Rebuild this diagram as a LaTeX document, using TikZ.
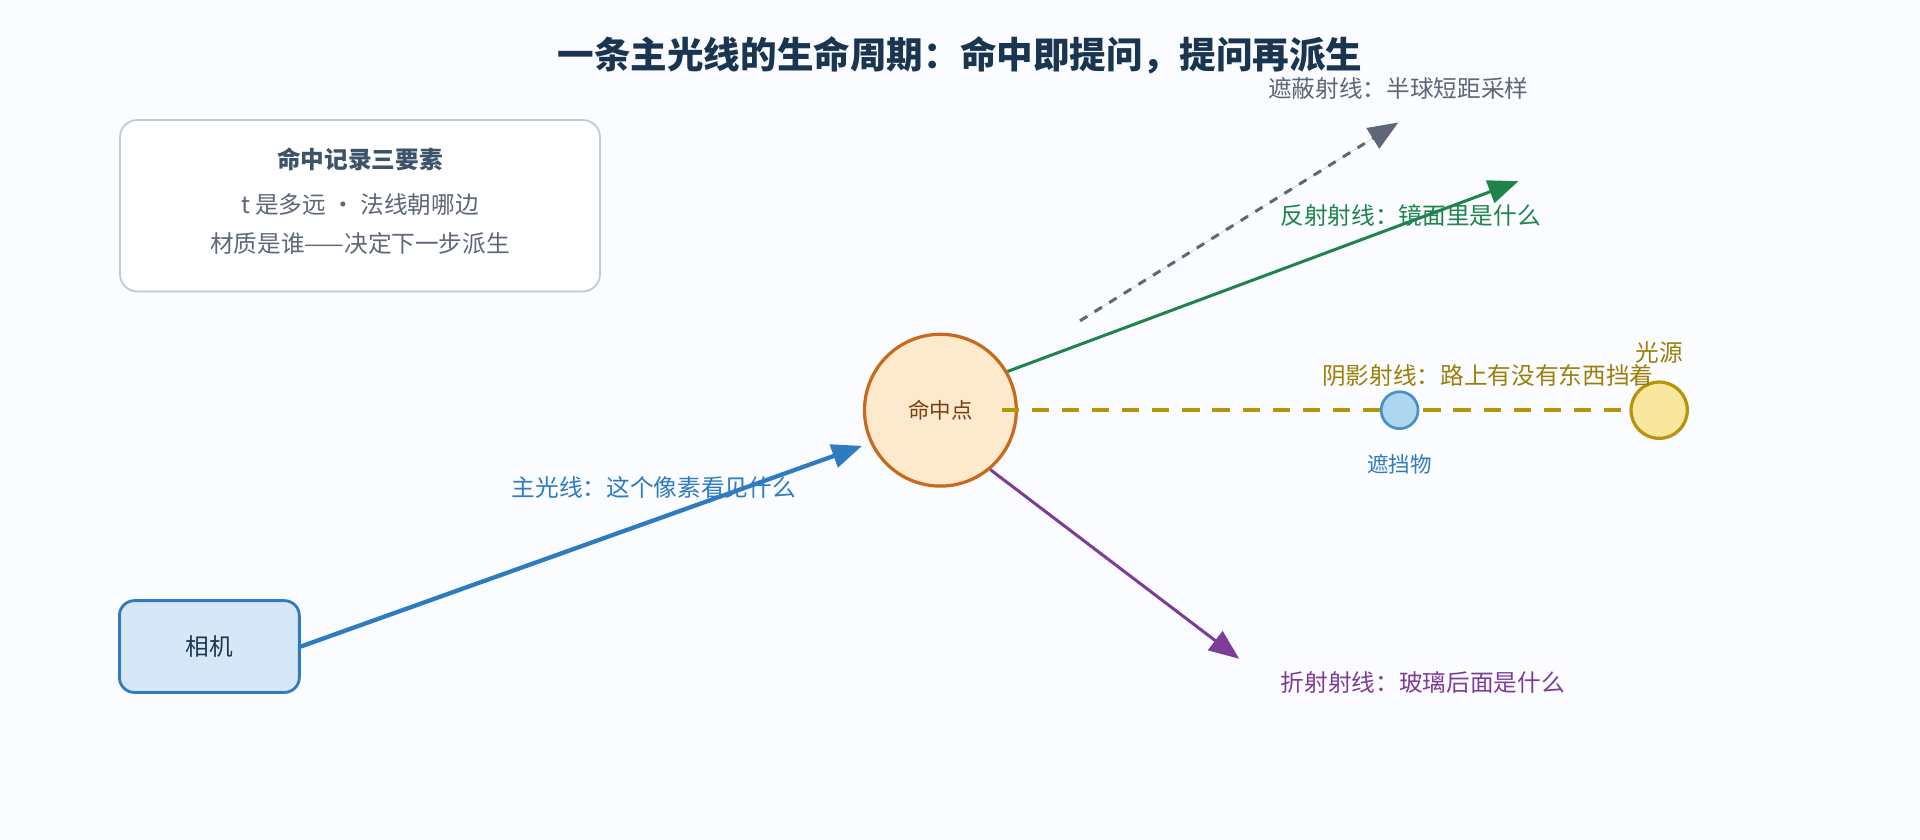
\documentclass[tikz,border=0pt]{standalone}
\usepackage{fontspec}
\setmainfont{Noto Sans CJK SC}
\usetikzlibrary{arrows.meta,positioning}
\definecolor{titlec}{HTML}{1A3550}
\definecolor{grayc}{HTML}{5D6778}
\definecolor{bluec}{HTML}{2E7BBF}
\definecolor{greenc}{HTML}{1E8449}
\definecolor{purplec}{HTML}{7D3C98}
\definecolor{olivec}{HTML}{B7950B}
\definecolor{brownc}{HTML}{C8691C}
\tikzset{
  ray/.style={line width=1.4pt, -{Triangle[length=14pt,width=11pt]}},
  lbl/.style={font=\fontsize{11}{13}\selectfont},
}
\begin{document}
\begin{tikzpicture}[x=0.02cm,y=-0.02cm]
        % canvas
        \fill[fill={rgb,255:red,250;green,252;blue,255}] (0,0) rectangle (1568,686);
        \node[font=\fontsize{17}{20}\selectfont\bfseries, text=titlec] (title) at (784,45) {一条主光线的生命周期：命中即提问，提问再派生};

        % legend
        \draw[draw={rgb,255:red,192;green,200;blue,208}, fill=white, rounded corners=8pt, line width=0.8pt] (98,98) rectangle (490,238);
        \node[lbl, font=\fontsize{11}{13}\selectfont\bfseries, text=titlec!85] (lg1) at (294,130) {命中记录三要素};
        \node[lbl, text=grayc] (lg2) at (294,167) {t 是多远 · 法线朝哪边};
        \node[lbl, text=grayc] (lg3) at (294,199) {材质是谁——决定下一步派生};

        % nodes
        \node[draw=bluec, fill={rgb,255:red,214;green,232;blue,247}, line width=1.3pt, rounded corners=7pt,
              minimum width=2.94cm, minimum height=1.5cm, lbl, text=titlec] (cam) at (171,528) {相机};
        \node[circle, draw=brownc, fill={rgb,255:red,253;green,233;blue,204}, line width=1.5pt,
              minimum size=2.48cm, lbl, font=\fontsize{10}{12}\selectfont, text=brownc!60!black] (hit) at (768,335) {命中点};
        \node[circle, draw={rgb,255:red,74;green,144;blue,200}, fill={rgb,255:red,174;green,214;blue,241}, line width=1.2pt,
              minimum size=0.6cm, inner sep=0pt] (blk) at (1143,335) {};
        \node[circle, draw=olivec, fill={rgb,255:red,249;green,231;blue,159}, line width=1.5pt,
              minimum size=0.92cm, inner sep=0pt] (light) at (1355,335) {};
        \coordinate (occ) at (1142,100);
        \coordinate (refl) at (1240,148);
        \coordinate (refr) at (1012,538);

        % rays
        \draw[ray, draw=bluec, fill=bluec, line width=2pt, shorten >=4pt] (cam.east) -- (hit.205);
        \draw[ray, draw=grayc, fill=grayc, dash pattern=on 4pt off 4pt, line width=1.4pt] (882,262) -- (occ);
        \draw[ray, draw=greenc, fill=greenc] (hit.30) -- (refl);
        \draw[ray, draw=purplec, fill=purplec] (hit.-50) -- (refr);
        \draw[draw=olivec, line width=1.6pt, dash pattern=on 8pt off 6pt] (818,335) -- (light.west);
        \node[circle, draw={rgb,255:red,74;green,144;blue,200}, fill={rgb,255:red,174;green,214;blue,241}, line width=1.2pt,
              minimum size=0.6cm, inner sep=0pt] at (blk) {};

        % labels
        \node[lbl, text=bluec] (lmain) at (534,398) {主光线：这个像素看见什么};
        \node[lbl, text=grayc] (locc) at (1142,72) {遮蔽射线：半球短距采样};
        \node[lbl, text=greenc] (lrefl) at (1152,176) {反射射线：镜面里是什么};
        \node[lbl, text=purplec] (lrefr) at (1162,557) {折射射线：玻璃后面是什么};
        \node[lbl, text=olivec!85!black] (lsh) at (1215,307) {阴影射线：路上有没有东西挡着};
        \node[lbl, font=\fontsize{10}{12}\selectfont, text=bluec] (lblk) at (1143,379) {遮挡物};
        \node[lbl, text=olivec!85!black] (llight) at (1355,288) {光源};
    \end{tikzpicture}
\end{document}
